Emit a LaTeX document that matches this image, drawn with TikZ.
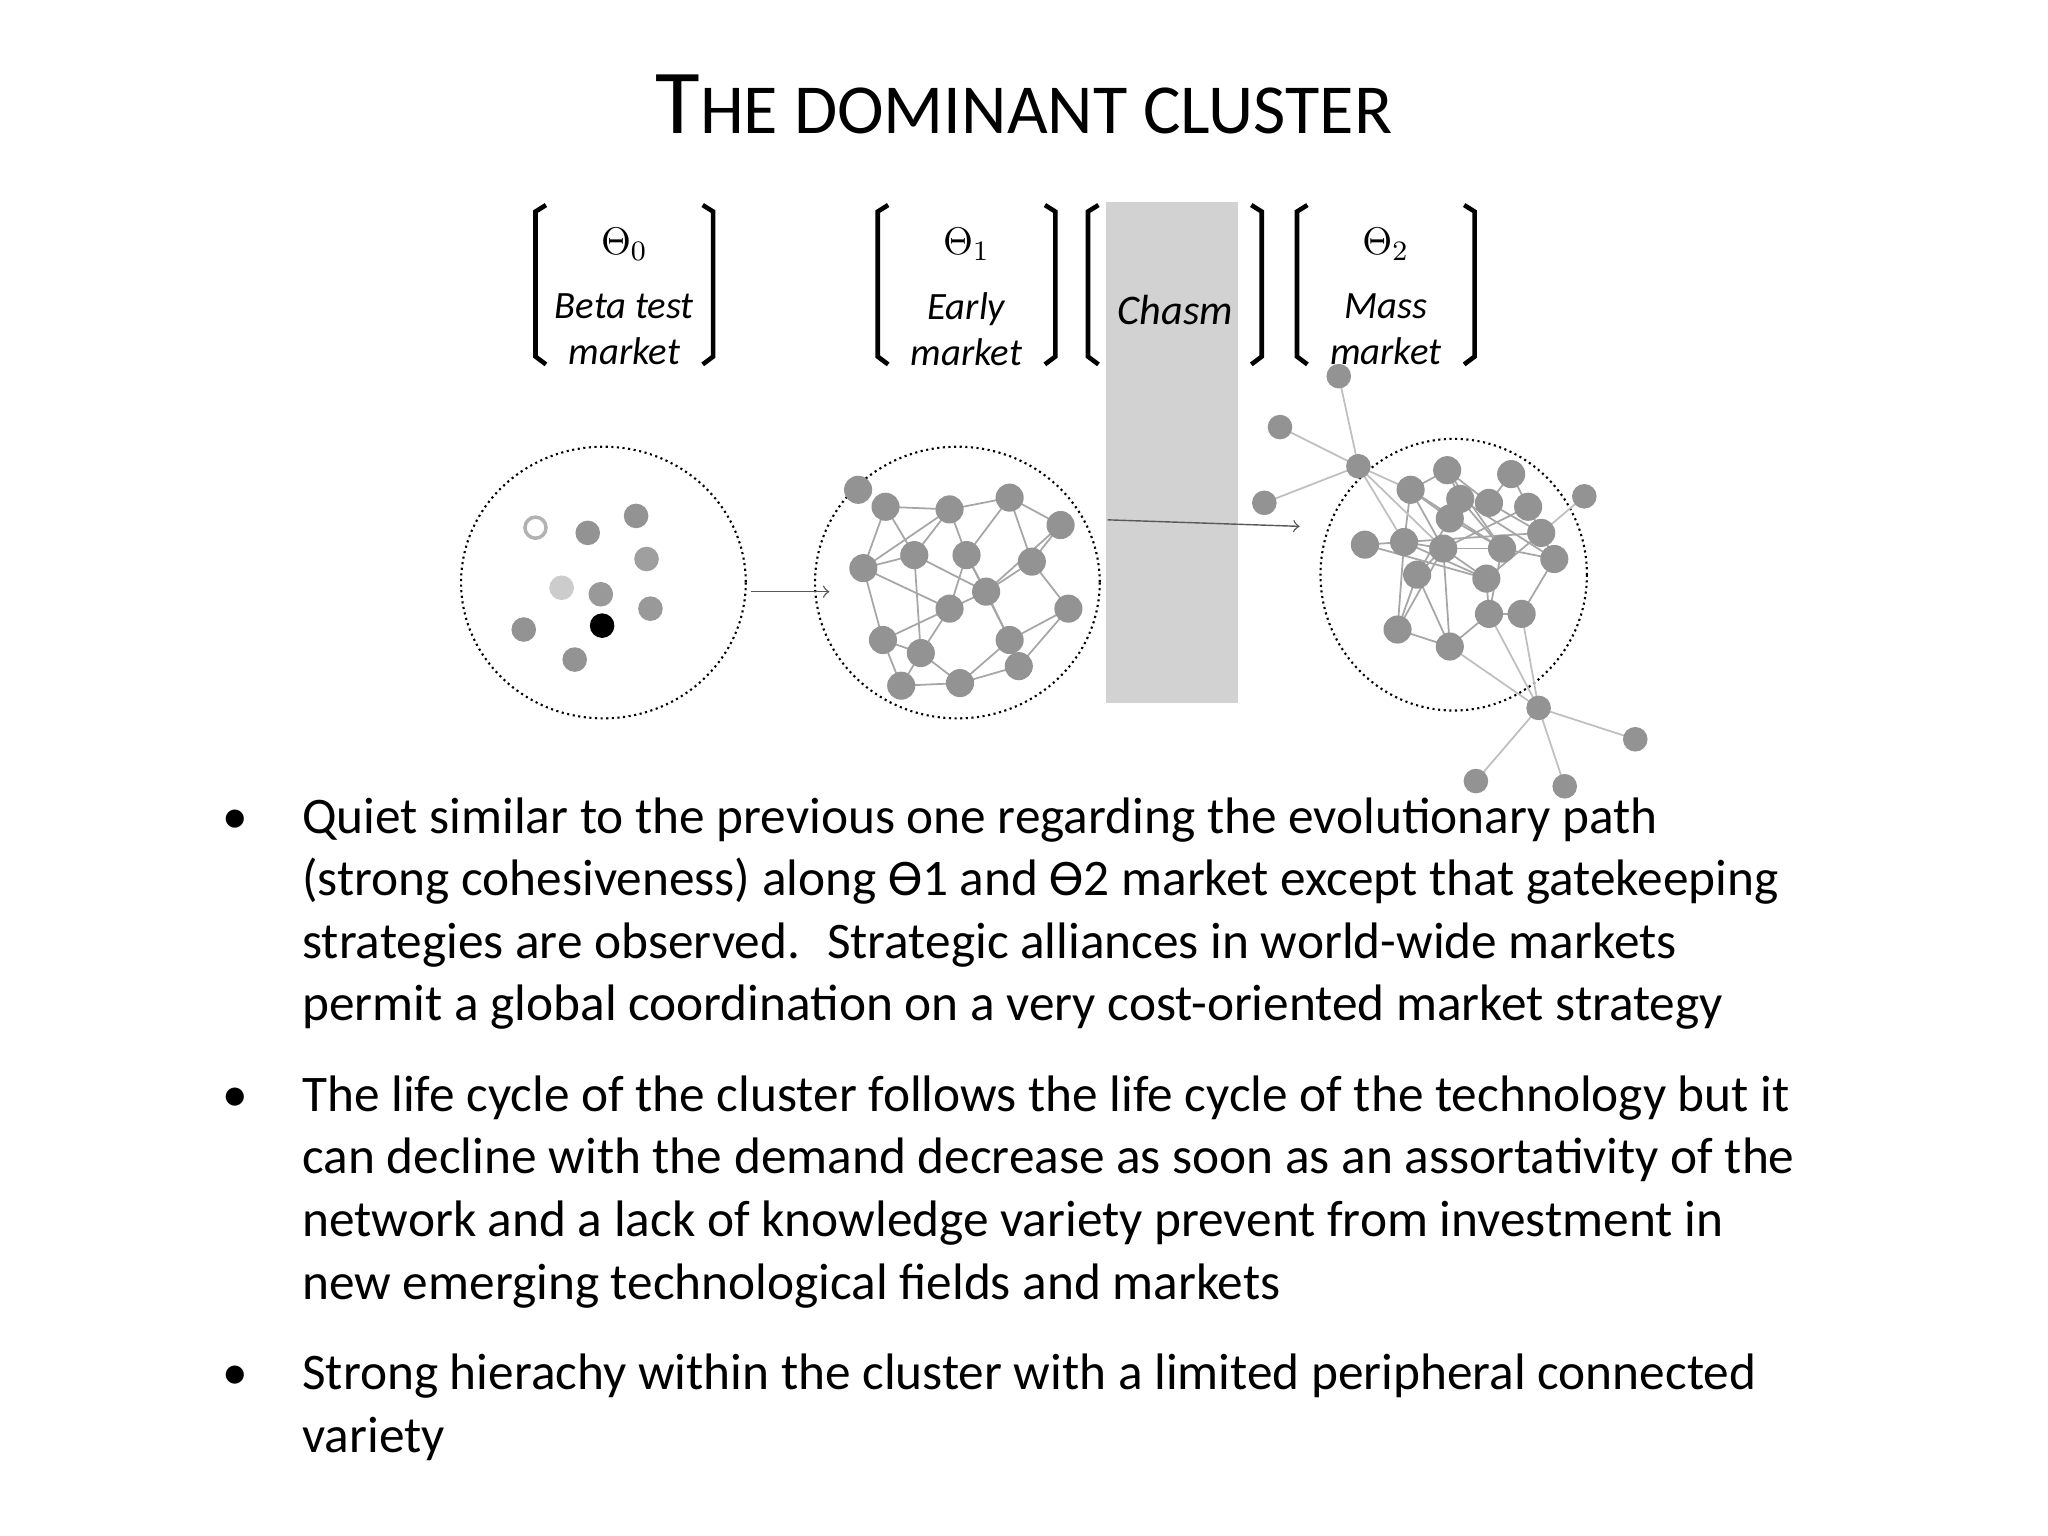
\documentclass[tikz,border=0pt]{standalone}
\usepackage{fontspec}
\setmainfont{Carlito}
\begin{document}
\begin{tikzpicture}[x=0.01306cm,y=-0.01306cm,
  dot/.style={circle,fill=gray!85,inner sep=0pt,minimum size=8pt},
  edge/.style={gray!70,line width=0.5pt},
  lbl/.style={font=\fontsize{11}{13}\selectfont\itshape,align=center},
  circ/.style={densely dotted,line width=0.6pt}]
\useasboundingbox (0,0) rectangle (1568,1176);
% title
\node (title) at (784,80) {\fontsize{26}{30}\selectfont T\fontsize{20}{24}\selectfont HE DOMINANT CLUSTER};
% chasm
\fill[gray!35] (847,155) rectangle (948,538);
% brackets
\foreach \ua/\ub in {410/546,672/808,833/966,993/1129}{
  \draw[line width=1.3pt] (\ua+8,157) -- (\ua,162) -- (\ua,273) -- (\ua+8,279);
  \draw[line width=1.3pt] (\ub-8,157) -- (\ub,162) -- (\ub,273) -- (\ub-8,279);
}
\node[lbl] (t0) at (478,187) {$\Theta_0$};
\node[lbl] (m0) at (478,252) {Beta test\\market};
\node[lbl] (t1) at (740,187) {$\Theta_1$};
\node[lbl] (m1) at (740,252) {Early\\market};
\node[lbl,font=\fontsize{12}{14}\selectfont\itshape\rmfamily] (ch) at (900,237) {Chasm};
\node[lbl] (t2) at (1061,187) {$\Theta_2$};
\node[lbl] (m2) at (1061,252) {Mass\\market};
% circles
\draw[circ] (462,446) ellipse [x radius=109, y radius=104];
\draw[circ] (733,446) ellipse [x radius=109, y radius=104];
\draw[circ] (1113,440) ellipse [x radius=102, y radius=104];
% left dots
\foreach \xx/\yy/\cc in {450/408/85,487/395/85,495/428/75,430/450/40,460/455/80,498/466/80,401/482/85,440/505/85}
  \node[dot,fill=gray!\cc,minimum size=7pt] at (\xx,\yy) {};
\node[circle,draw=gray!60,line width=1pt,inner sep=0pt,minimum size=6pt] (h0) at (410,404) {};
\node[dot,fill=black,minimum size=7pt] (k0) at (461,479) {};
% arrows
\coordinate (a1) at (575,453); \coordinate (a2) at (635,453);
\draw[->,gray!70!black] (a1) -- (a2);
\coordinate (b1) at (848,398); \coordinate (b2) at (995,403);
\draw[->,gray!70!black] (b1) -- (b2);
% middle network
\foreach \n/\xx/\yy in {1/657/375,2/678/388,3/727/390,4/773/381,5/812/402,6/661/435,7/700/425,8/740/425,9/790/430,10/755/453,11/727/466,12/818/466,13/676/490,14/705/500,15/773/490,16/690/525,17/735/523,18/780/510}
  \coordinate (m\n) at (\xx,\yy);
\foreach \ua/\ub in {2/3,3/4,4/5,2/6,2/7,3/7,3/8,4/8,4/9,5/9,5/10,6/7,6/11,6/13,7/10,8/10,8/11,9/10,9/12,10/11,10/15,11/13,11/14,12/18,12/15,13/14,13/16,14/16,14/17,15/17,15/18,16/17,17/18,7/14,3/6,8/15}
  \draw[edge] (m\ua) -- (m\ub);
\foreach \n in {1,...,18} \node[dot] at (m\n) {};
% right network
\foreach \n/\xx/\yy in {1/1080/375,2/1108/360,3/1157/363,4/1170/388,5/1180/408,6/1190/428,7/1165/470,8/1138/443,9/1110/397,10/1118/382,11/1140/385,12/1075/415,13/1045/417,14/1070/482,15/1110/495,16/1140/470,17/1085/440,18/1105/420,19/1150/420}
  \coordinate (r\n) at (\xx,\yy);
\foreach \ua/\ub in {1/2,1/9,1/12,1/18,2/10,2/11,2/19,3/4,3/11,4/5,4/18,5/6,5/8,5/12,6/7,6/19,7/16,8/16,8/18,9/19,9/17,10/19,11/5,12/13,12/18,12/14,12/8,14/17,14/15,15/16,15/17,16/19,17/18,18/19,13/8,10/6,1/19,14/18,15/18}
  \draw[edge] (r\ua) -- (r\ub);
\foreach \n/\xx/\yy in {1/1040/357,2/980/327,3/968/385,4/1025/288,5/1213/380,6/1178/542,7/1130/598,8/1198/602,9/1252/566}
  \coordinate (o\n) at (\xx,\yy);
\foreach \ua/\ub in {o1/o2,o1/o3,o1/o4,o1/r12,o1/r1,o1/r18,r5/o5,o6/o7,o6/o8,o6/o9,o6/r15,o6/r16,o6/r7}
  \draw[edge,gray!50] (\ua) -- (\ub);
\foreach \n in {1,...,19} \node[dot] at (r\n) {};
\foreach \n in {1,...,9} \node[dot,minimum size=7pt] at (o\n) {};
% bullets
\node[anchor=north west,align=left,font=\fontsize{14.6}{17.8}\selectfont,inner sep=0pt] (txt) at (231,610) {%
\llap{•\hspace{1.05em}}Quiet similar to the previous one regarding the evolutionary path\\
(strong cohesiveness) along ϴ1 and ϴ2 market except that gatekeeping\\
strategies are observed.~ Strategic alliances in world-wide markets\\
permit a global coordination on a very cost-oriented market strategy\\[8pt]
\llap{•\hspace{1.05em}}The life cycle of the cluster follows the life cycle of the technology but it\\
can decline with the demand decrease as soon as an assortativity of the\\
network and a lack of knowledge variety prevent from investment in\\
new emerging technological fields and markets\\[8pt]
\llap{•\hspace{1.05em}}Strong hierachy within the cluster with a limited peripheral connected\\
variety};
\end{tikzpicture}
\end{document}
